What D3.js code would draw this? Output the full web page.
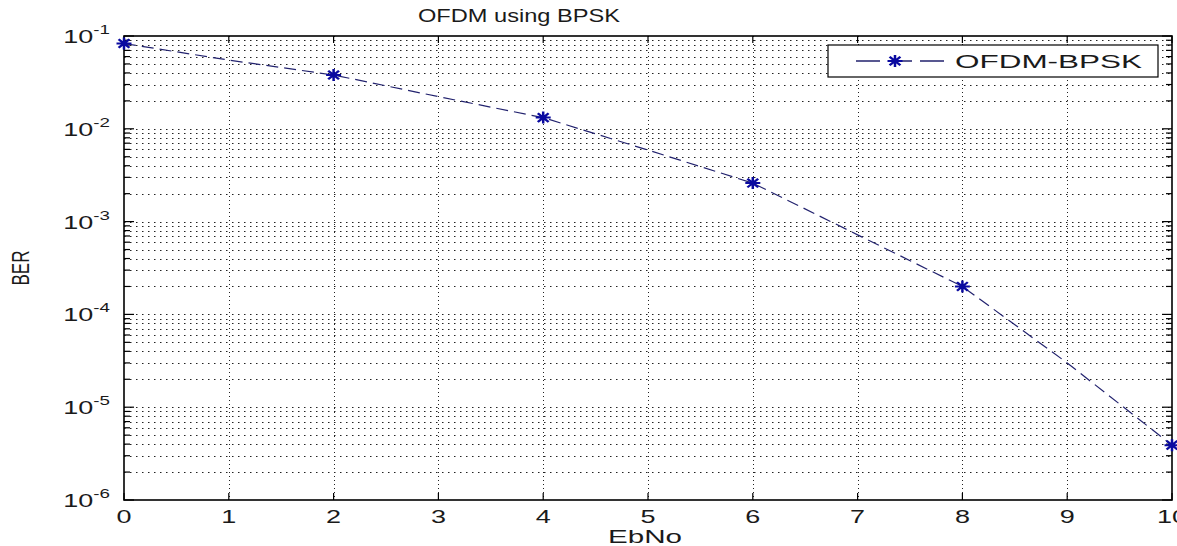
<!DOCTYPE html>
<html>
<head>
<meta charset="utf-8">
<script src="https://d3js.org/d3.v7.min.js"></script>
<style>
  body { margin: 0; background: #fff; }
  text { font-family: "Liberation Sans", Arial, sans-serif; fill: #1a1a1a; }
</style>
</head>
<body>
<script>
// EbNo (dB) and measured BER
const ebno = [0, 1, 2, 3, 4, 5, 6, 7, 8, 9, 10];
const ber = [0.083, 0.055, 0.038, 0.0222, 0.0132, 0.0059, 0.0026, 0.00072, 0.0002, 0.00003, 0.0000039];
const markerEvery = 2;
const xTicks = [0, 1, 2, 3, 4, 5, 6, 7, 8, 9, 10];
const yDecades = [-6, -5, -4, -3, -2, -1];
const seriesName = 'OFDM-BPSK';

const width = 1177, height = 546;
const plot = { left: 124, right: 1172, top: 36, bottom: 500 };
const sx = 1.5; // picture is stretched sideways

const svg = d3.select('body').append('svg')
  .attr('width', width).attr('height', height);

const x = d3.scaleLinear().domain([0, 10]).range([plot.left, plot.right]);
const y = d3.scaleLog().domain([1e-6, 1e-1]).range([plot.bottom, plot.top]);

// minor + major horizontal grid values
const minorVals = [];
yDecades.slice(0, -1).forEach(e => {
  for (let k = 2; k <= 9; k++) minorVals.push(k * Math.pow(10, e));
});
const majorVals = yDecades.map(e => Math.pow(10, e));

const grid = svg.append('g').attr('stroke', '#222').attr('stroke-width', 1).attr('fill', 'none');
grid.selectAll('line.h')
  .data(minorVals.concat(majorVals.slice(1, -1)))
  .join('line')
  .attr('x1', plot.left).attr('x2', plot.right)
  .attr('y1', d => Math.round(y(d)) + 0.5).attr('y2', d => Math.round(y(d)) + 0.5)
  .attr('stroke-dasharray', '1.5,4.5');
grid.selectAll('line.v')
  .data(xTicks.slice(1, -1))
  .join('line')
  .attr('x1', d => Math.round(x(d)) + 0.5).attr('x2', d => Math.round(x(d)) + 0.5)
  .attr('y1', plot.top).attr('y2', plot.bottom)
  .attr('stroke-dasharray', '1,3');

// ticks inside the box
const ticks = svg.append('g').attr('stroke', '#000').attr('stroke-width', 1.2);
xTicks.forEach(t => {
  const px = x(t);
  ticks.append('line').attr('x1', px).attr('x2', px).attr('y1', plot.bottom).attr('y2', plot.bottom - 7);
  ticks.append('line').attr('x1', px).attr('x2', px).attr('y1', plot.top).attr('y2', plot.top + 7);
});
minorVals.concat(majorVals).forEach(v => {
  const py = y(v);
  const len = majorVals.includes(v) ? 10 : 6;
  ticks.append('line').attr('x1', plot.left).attr('x2', plot.left + len).attr('y1', py).attr('y2', py);
  ticks.append('line').attr('x1', plot.right).attr('x2', plot.right - len).attr('y1', py).attr('y2', py);
});

// box
svg.append('rect')
  .attr('x', plot.left).attr('y', plot.top)
  .attr('width', plot.right - plot.left).attr('height', plot.bottom - plot.top)
  .attr('fill', 'none').attr('stroke', '#000').attr('stroke-width', 1.6);

// x tick labels
svg.append('g').selectAll('text')
  .data(xTicks)
  .join('text')
  .attr('transform', d => `translate(${x(d)},${plot.bottom + 23}) scale(${sx},1)`)
  .attr('text-anchor', 'middle')
  .attr('font-size', 18)
  .text(d => d);

// y tick labels 10^n
const yl = svg.append('g').selectAll('text')
  .data(yDecades)
  .join('text')
  .attr('transform', d => `translate(${plot.left - 14},${y(Math.pow(10, d)) + 7}) scale(${sx},1)`)
  .attr('text-anchor', 'end')
  .attr('font-size', 18);
yl.append('tspan').text('10');
yl.append('tspan').attr('font-size', 12.5).attr('dy', -9).text(d => d);

// axis titles
svg.append('text')
  .attr('x', 645).attr('y', 543)
  .attr('text-anchor', 'middle').attr('font-size', 18)
  .attr('textLength', 74).attr('lengthAdjust', 'spacingAndGlyphs')
  .text('EbNo');
svg.append('text')
  .attr('transform', `translate(29,${(plot.top + plot.bottom) / 2}) scale(1.4,1) rotate(-90)`)
  .attr('text-anchor', 'middle').attr('font-size', 17)
  .attr('textLength', 35).attr('lengthAdjust', 'spacingAndGlyphs')
  .text('BER');
svg.append('text')
  .attr('x', 418).attr('y', 22)
  .attr('font-size', 18)
  .attr('textLength', 202).attr('lengthAdjust', 'spacingAndGlyphs')
  .text('OFDM using BPSK');

// series
const pts = ebno.map((e, i) => ({ x: e, y: ber[i] }));
const lineColor = '#22226e', markColor = '#0a0aa0';
svg.append('path')
  .datum(pts)
  .attr('d', d3.line().x(d => x(d.x)).y(d => y(d.y)))
  .attr('fill', 'none').attr('stroke', lineColor).attr('stroke-width', 1.2)
  .attr('stroke-dasharray', '12,6');

const star = r => {
  const d = r * 0.72;
  return `M${-r},0H${r}M0,${-r}V${r}M${-d},${-d}L${d},${d}M${-d},${d}L${d},${-d}`;
};
svg.append('g').selectAll('path')
  .data(pts.filter(d => d.x % markerEvery === 0))
  .join('path')
  .attr('transform', d => `translate(${x(d.x)},${y(d.y)}) scale(1.25,1)`)
  .attr('d', star(6))
  .attr('stroke', markColor).attr('stroke-width', 2).attr('fill', 'none');

// legend
const lg = svg.append('g');
lg.append('rect')
  .attr('x', 828).attr('y', 45).attr('width', 330).attr('height', 32)
  .attr('fill', '#fff').attr('stroke', '#000').attr('stroke-width', 1.2);
lg.append('line')
  .attr('x1', 856).attr('x2', 947).attr('y1', 61).attr('y2', 61)
  .attr('stroke', lineColor).attr('stroke-width', 1.4).attr('stroke-dasharray', '24,8');
lg.append('path')
  .attr('transform', 'translate(895,61) scale(1.25,1)')
  .attr('d', star(6))
  .attr('stroke', markColor).attr('stroke-width', 2).attr('fill', 'none');
lg.append('text')
  .attr('x', 955).attr('y', 68).attr('font-size', 19)
  .attr('textLength', 187).attr('lengthAdjust', 'spacingAndGlyphs')
  .text(seriesName);
</script>
</body>
</html>
